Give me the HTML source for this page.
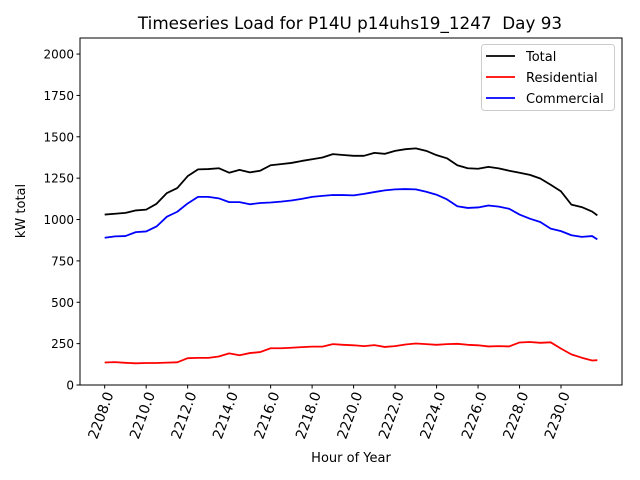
<!DOCTYPE html>
<html><head><meta charset="utf-8"><style>
body{margin:0;background:#fff;}
svg{display:block;font-family:"DejaVu Sans","Liberation Sans",sans-serif;}
</style></head><body>
<svg id="chart" width="640" height="480" xmlns="http://www.w3.org/2000/svg">
<rect x="0" y="0" width="640" height="480" fill="#fff"/>
<text x="350" y="29" font-size="16.8" text-anchor="middle" fill="#000">Timeseries Load for P14U p14uhs19_1247 &#160;Day 93</text>
<text transform="translate(25,211) rotate(-90)" font-size="13" text-anchor="middle">kW total</text>
<text x="351" y="462" font-size="13" text-anchor="middle">Hour of Year</text>
<g id="plot"></g>
<rect x="80" y="38" width="542" height="347" fill="none" stroke="#000" stroke-width="1"/>
<g>
<rect x="481.5" y="44.5" width="133" height="66" rx="3" fill="#fff" fill-opacity="0.8" stroke="#ccc"/>
<line x1="486" y1="56" x2="515" y2="56" stroke="#000" stroke-width="1.8"/>
<text x="526" y="61" font-size="13">Total</text>
<line x1="486" y1="77" x2="515" y2="77" stroke="#f00" stroke-width="1.8"/>
<text x="526" y="82" font-size="13">Residential</text>
<line x1="486" y1="98" x2="515" y2="98" stroke="#00f" stroke-width="1.8"/>
<text x="526" y="103" font-size="13">Commercial</text>
</g>
</svg>
<script>
const hours = [2208,2208.5,2209,2209.5,2210,2210.5,2211,2211.5,2212,2212.5,2213,2213.5,2214,2214.5,2215,2215.5,2216,2216.5,2217,2217.5,2218,2218.5,2219,2219.5,2220,2220.5,2221,2221.5,2222,2222.5,2223,2223.5,2224,2224.5,2225,2225.5,2226,2226.5,2227,2227.5,2228,2228.5,2229,2229.5,2230,2230.5,2231,2231.5,2231.75];
const totalLoad = [1030,1035,1040,1055,1060,1095,1160,1190,1262,1303,1305,1310,1283,1300,1285,1295,1328,1335,1342,1354,1364,1375,1395,1390,1385,1385,1403,1397,1415,1425,1430,1415,1389,1370,1328,1310,1307,1318,1309,1295,1283,1270,1248,1210,1170,1090,1075,1048,1025];
const residentialLoad = [136,138,134,131,133,133,135,137,162,164,164,172,191,180,193,199,222,222,225,229,232,232,247,243,240,235,241,230,235,245,251,247,243,247,249,243,240,233,235,233,257,260,255,258,220,185,165,148,150];
const commercialLoad = [890,898,900,924,928,958,1017,1047,1097,1137,1137,1128,1105,1105,1092,1100,1103,1108,1115,1125,1137,1143,1148,1148,1146,1155,1166,1176,1182,1184,1182,1168,1150,1122,1080,1070,1073,1085,1078,1065,1030,1005,985,945,930,905,895,900,880];
const yTicks = [0,250,500,750,1000,1250,1500,1750,2000];
const xTicks = [2208,2210,2212,2214,2216,2218,2220,2222,2224,2226,2228,2230];

const NS = "http://www.w3.org/2000/svg";
const plot = document.getElementById('plot');
const X0=80, X1=622, Y0=385, Y1=38;
const xMin=2206.81, xMax=2232.94, yMin=0, yMax=2097;
function xs(v){return X0+(v-xMin)/(xMax-xMin)*(X1-X0);}
function ys(v){return Y0-(v-yMin)/(yMax-yMin)*(Y0-Y1);}
function mk(tag){return document.createElementNS(NS,tag);}

yTicks.forEach(t=>{
  const l=mk('line');
  
  
  l.setAttribute('x1',X0-3.5);l.setAttribute('x2',X0);
  l.setAttribute('y1',ys(t));l.setAttribute('y2',ys(t));
  l.setAttribute('stroke','#000');
  plot.appendChild(l);
  const tx=mk('text');
  
  
  tx.setAttribute('x',X0-6);tx.setAttribute('y',ys(t)+4.5);
  tx.setAttribute('font-size','12');tx.setAttribute('text-anchor','end');
  tx.textContent=t;
  plot.appendChild(tx);
});
xTicks.forEach(t=>{
  const l=mk('line');
  
  
  l.setAttribute('x1',xs(t));l.setAttribute('x2',xs(t));
  l.setAttribute('y1',Y0);l.setAttribute('y2',Y0+3.5);
  l.setAttribute('stroke','#000');
  plot.appendChild(l);
  const tx=mk('text');
  
  
  tx.setAttribute('transform','translate('+(xs(t)+9)+','+(Y0+9)+') rotate(-70)');
  tx.setAttribute('font-size','14');tx.setAttribute('text-anchor','end');
  tx.textContent=t.toFixed(1);
  plot.appendChild(tx);
});
function series(vals,color,name){
  const p=mk('polyline');
  
  
  p.setAttribute('points',vals.map((v,i)=>xs(hours[i]).toFixed(2)+','+ys(v).toFixed(2)).join(' '));
  p.setAttribute('fill','none');p.setAttribute('stroke',color);
  p.setAttribute('stroke-width','1.8');p.setAttribute('stroke-linejoin','round');
  plot.appendChild(p);
}
series(totalLoad,'#000','total-line');
series(residentialLoad,'#f00','residential-line');
series(commercialLoad,'#00f','commercial-line');
</script>
</body></html>
